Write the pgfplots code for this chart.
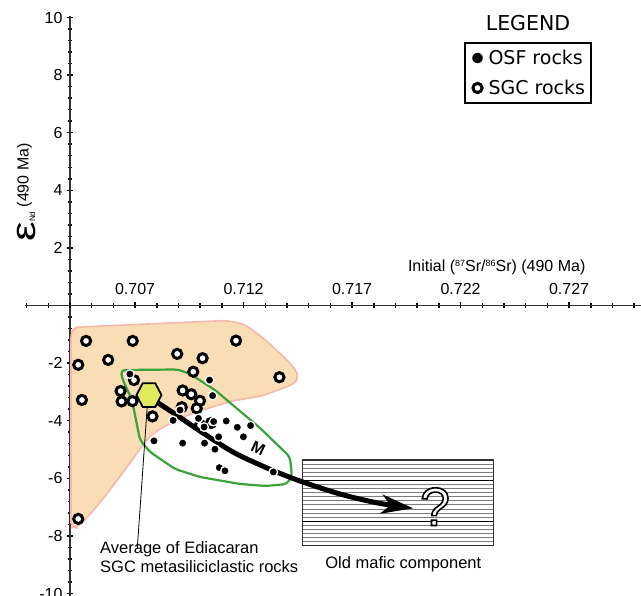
\documentclass[border=0pt]{standalone}
\usepackage{fontspec}
\setmainfont{Liberation Sans}
\newfontfamily\dejavu{DejaVu Sans}
\usepackage{pgfplots}
\pgfplotsset{compat=1.18}
\usetikzlibrary{arrows.meta}
\definecolor{orfill}{RGB}{248,221,181}
\definecolor{ordraw}{RGB}{244,184,172}
\definecolor{envgreen}{RGB}{58,162,58}
\definecolor{hexfill}{RGB}{224,234,92}
\definecolor{stripe}{RGB}{125,125,125}
\definecolor{axgray}{RGB}{50,50,50}
\pgfdeclareplotmark{hexagon}{%
  \pgfpathmoveto{\pgfpoint{1\pgfplotmarksize}{0pt}}%
  \pgfpathlineto{\pgfpoint{0.5\pgfplotmarksize}{0.953\pgfplotmarksize}}%
  \pgfpathlineto{\pgfpoint{-0.5\pgfplotmarksize}{0.953\pgfplotmarksize}}%
  \pgfpathlineto{\pgfpoint{-1\pgfplotmarksize}{0pt}}%
  \pgfpathlineto{\pgfpoint{-0.5\pgfplotmarksize}{-0.953\pgfplotmarksize}}%
  \pgfpathlineto{\pgfpoint{0.5\pgfplotmarksize}{-0.953\pgfplotmarksize}}%
  \pgfpathclose
  \pgfusepathqfillstroke}
\pgfplotsset{
  sgc/.style={only marks, mark=*, mark size=4.6pt,
    mark options={fill=white, draw=black, line width=3pt},
    legend image code/.code={\draw[##1, mark size=4.6pt] plot coordinates {(0pt,0pt)};}},
  osf/.style={only marks, mark=*, mark size=4.3pt,
    mark options={fill=black, draw=white, line width=1.3pt},
    legend image code/.code={\draw[##1, mark size=6pt] plot coordinates {(0pt,0pt)};}},
  common/.style={
    at={(25pt,-596.38pt)}, anchor=south west,
    scale only axis, width=616pt, height=580.32pt,
    ymin=-10.1, ymax=10.05,
    tick align=center,
    major tick length=6pt, minor tick length=4.5pt,
    tick style={line width=1.5pt, black},
    tick label style={font=\fontsize{16}{19}\selectfont},
    /pgf/number format/assume math mode=true,
  }
}
\begin{document}
\begin{tikzpicture}
% ---------------- y axis (shifted x frame, y axis at Sr = 0.704)
\begin{axis}[common,
  xmin=-0.00207373, xmax=0.02631336,
  axis x line=none, axis y line=middle,
  y axis line style={-, line width=1.8pt, draw=axgray},
  xtick=\empty,
  ytick={-10,-8,-6,-4,-2,2,4,6,8,10},
  minor ytick={-10,-9.6,...,10},
  yticklabel style={anchor=east, xshift=-1pt},
]
\end{axis}
% ---------------- main axis with data
\begin{axis}[common,
  xmin=0.70192627, xmax=0.73031336,
  axis x line=middle, axis y line=none,
  x axis line style={-, line width=1.8pt, draw=axgray},
  ytick=\empty,
  xtick={0.707,0.712,0.717,0.722,0.727},
  minor xtick={0.702,0.703,...,0.730},
  scaled x ticks=false,
  xticklabel style={anchor=south, yshift=10pt,
    /pgf/number format/fixed, /pgf/number format/precision=3,
    /pgf/number format/fixed zerofill},
  legend style={at={(0.7127,0.9552)}, anchor=north west, draw=black,
    line width=2pt, fill=white,
    font=\dejavu\fontsize{19}{22}\selectfont,
    inner xsep=6.5pt, inner ysep=7pt, row sep=14pt, column sep=5pt,
    nodes={inner sep=0pt}},
  legend cell align=left,
]
% SGC field (orange)
\addplot[fill=orfill, draw=ordraw, line width=1.6pt, rounded corners=5pt, forget plot]
  coordinates {
  (0.704046,-7.708) (0.704046,-0.955) (0.704184,-0.781) (0.704461,-0.747)
  (0.711189,-0.521) (0.712018,-0.642) (0.712848,-1.094) (0.713908,-1.823)
  (0.714415,-2.240) (0.714530,-2.517) (0.714323,-2.726) (0.712848,-3.142)
  (0.711465,-3.316) (0.709668,-3.733) (0.708286,-4.219) (0.707687,-4.531)
  (0.707226,-4.983) (0.706396,-5.851) (0.705659,-6.580) (0.705014,-7.170)
  (0.704599,-7.517) (0.704276,-7.708)} -- cycle;
% OSF field (green outline)
\addplot[draw=envgreen, line width=2.2pt, fill=none, rounded corners=4pt, forget plot]
  coordinates {
  (0.706350,-2.240) (0.708977,-2.222) (0.709530,-2.378) (0.710682,-2.934)
  (0.712756,-4.253) (0.714138,-5.260) (0.714230,-5.920) (0.714000,-6.198)
  (0.713032,-6.267) (0.711834,-6.198) (0.709991,-5.955) (0.708839,-5.677)
  (0.707687,-5.087) (0.707226,-4.670) (0.706857,-3.281) (0.706396,-2.517)} -- cycle;
% leader line
\draw[black, line width=0.8pt] (axis cs:0.70758,-3.28) -- (axis cs:0.70710,-8.43);
% old mafic component box
\fill[white] (axis cs:0.71471,-5.365) rectangle (axis cs:0.72351,-8.34);
\pgfplotsinvokeforeach{1,2,3,4,6,7,8,9,10,11,12,13,14,16,17,18,19,20}{
  \draw[stripe, line width=0.9pt] (axis cs:0.71471,{-5.365-#1*0.141667}) -- (axis cs:0.72351,{-5.365-#1*0.141667});
}
\draw[black, line width=1pt] (axis cs:0.71471,{-5.365-5*0.141667}) -- (axis cs:0.72351,{-5.365-5*0.141667});
\draw[black, line width=1pt] (axis cs:0.71471,{-5.365-15*0.141667}) -- (axis cs:0.72351,{-5.365-15*0.141667});
\draw[axgray, line width=1.3pt] (axis cs:0.71471,-5.365) rectangle (axis cs:0.72351,-8.34);
% SGC rocks
\addplot[sgc, forget plot] coordinates {
  (0.70474,-1.23) (0.70689,-1.23) (0.71165,-1.22) (0.70438,-2.06)
  (0.70576,-1.89) (0.70894,-1.68) (0.71011,-1.83) (0.70968,-2.30)
  (0.71365,-2.49) (0.70695,-2.59) (0.70633,-2.97) (0.70638,-3.33)
  (0.70688,-3.32) (0.70455,-3.28) (0.70780,-3.85) (0.70919,-2.95)
  (0.70959,-3.08) (0.70999,-3.31) (0.70915,-3.53) (0.70984,-3.57)
  (0.70438,-7.41) (0.70999,-4.15) (0.71050,-4.08)};
% mixing curve M
\addplot[smooth, black, line width=5pt, forget plot,
  -{Stealth[length=32pt, width=19pt, inset=9pt]}] coordinates {
  (0.70806,-3.385) (0.70884,-3.767) (0.70999,-4.358) (0.71151,-5.087)
  (0.71308,-5.642) (0.71460,-6.094) (0.71644,-6.545) (0.71819,-6.858)
  (0.71982,-7.042)};
% OSF rocks
\addplot[osf] coordinates {
  (0.70676,-2.38) (0.71043,-2.59) (0.71057,-3.13) (0.70907,-3.63)
  (0.70875,-3.99) (0.70992,-3.92) (0.71062,-4.03) (0.71120,-4.01)
  (0.71171,-4.23) (0.71232,-4.17) (0.71199,-4.56) (0.71085,-4.56)
  (0.71020,-4.78) (0.70919,-4.78) (0.70787,-4.70) (0.71068,-4.99)
  (0.71088,-5.63) (0.71114,-5.74) (0.71337,-5.78) (0.71018,-4.22)};
\addlegendentry{OSF rocks}
\addlegendimage{sgc}
\addlegendentry{SGC rocks}
% average of Ediacaran SGC rocks
\addplot[only marks, mark=hexagon, mark size=12.5pt, forget plot,
  mark options={fill=hexfill, draw=black, line width=1.8pt}]
  coordinates {(0.70764,-3.11)};
\end{axis}
% ---------------- texts (1pt = 1px, origin top left)
\node[anchor=base, font=\dejavu\fontsize{20.5}{24}\selectfont] at (528pt,-30.7pt) {LEGEND};
\node[anchor=base, font=\fontsize{16}{19}\selectfont, inner sep=0pt] at (496.7pt,-272pt)
  {Initial (\raisebox{5pt}{\fontsize{9}{9}\selectfont 87}Sr/\raisebox{5pt}{\fontsize{9}{9}\selectfont 86}Sr) (490 Ma)};
\node[anchor=base, rotate=90, inner sep=0pt, font=\fontsize{16}{19}\selectfont] at (28.5pt,-192.5pt)
  {\raisebox{-7pt}{\scalebox{1.3}[1]{\fontsize{34}{34}\selectfont ε}}\raisebox{-6.5pt}{\fontsize{8}{8}\selectfont Nd}~(490 Ma)};
\node[anchor=base west, inner sep=0pt, align=left, font=\fontsize{16.5}{19.5}\selectfont] at (100pt,-572.5pt)
  {Average of Ediacaran\\SGC metasiliciclastic rocks};
\node[anchor=base, inner sep=0pt, font=\fontsize{16.5}{19.5}\selectfont] at (403.3pt,-568.3pt) {Old mafic component};
\node[rotate=-25, font=\bfseries\fontsize{16}{19}\selectfont] at (258.3pt,-448.3pt) {M};
\node[font=\fontsize{54}{54}\selectfont, text=white] at (435pt,-506.7pt)
  {\special{pdf:literal direct 0 0 0 RG 2 Tr 1.6 w}?\special{pdf:literal direct 0 Tr}};
\pgfresetboundingbox
\useasboundingbox (0pt,0pt) rectangle (641pt,-596pt);
\end{tikzpicture}
\end{document}
